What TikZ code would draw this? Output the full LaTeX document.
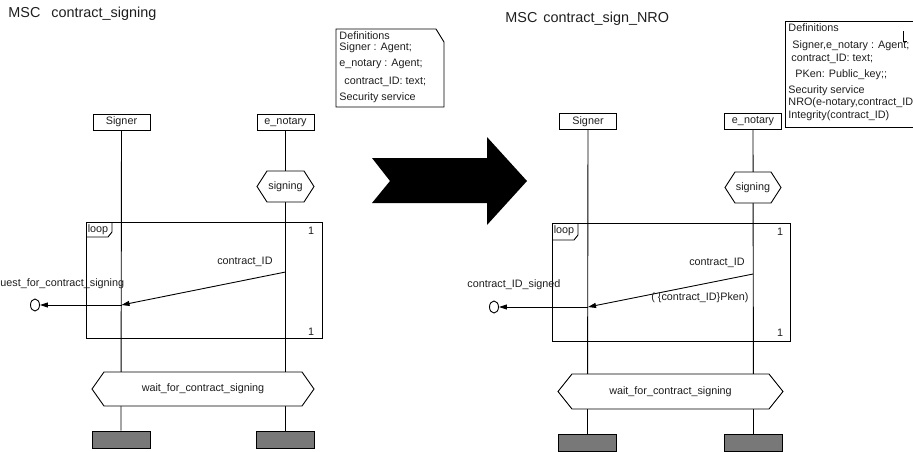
\documentclass[tikz,border=0pt]{standalone}
\usepackage{fontspec}
\setmainfont{Liberation Sans}
\usetikzlibrary{arrows.meta,shapes.geometric}
\definecolor{endgray}{RGB}{120,120,120}
\definecolor{ink}{RGB}{30,30,30}
\newcommand\hexnode[7]{%
  \draw[hexline] (#2,{(#4+#5)/2}) -- (#2+#6,#4) -- (#3-#6,#4) -- (#3,{(#4+#5)/2}) -- (#3-#6,#5) -- (#2+#6,#5) -- cycle;
  \node[lbl] (#1) at ({(#2+#3)/2},{(#4+#5)/2}) {#7};}
\begin{document}
\begin{tikzpicture}[x=1pt,y=-1pt,line width=0.9pt,
  lbl/.style={font=\fontsize{10.8}{13}\selectfont, inner sep=0pt, text=ink},
  ttl/.style={font=\fontsize{14.4}{17}\selectfont, inner sep=0pt, text=ink, anchor=west},
  inst/.style={lbl, draw, fill=white, minimum width=57pt, minimum height=16pt},
  endbox/.style={draw, fill=endgray, minimum width=58pt, minimum height=17pt, inner sep=0pt},
  hexline/.style={draw, fill=white},
  msg/.style={-{Triangle[length=8pt,width=5pt]}},
  outc/.style={draw, ellipse, minimum width=9pt, minimum height=12pt, inner sep=0pt},
  deftxt/.style={lbl, anchor=west}]
\useasboundingbox (0,0) rectangle (913,451);

% ================= LEFT MSC =================
\node[ttl] (tL) at (8,14) {MSC\hspace{11pt}contract\_signing};

% definitions
\draw (436,29) -- (336,29) -- (336,107) -- (444,107) -- (444,42) -- (436,29);
\node[deftxt] (dL0) at (339,35.5) {Definitions};
\node[deftxt] (dL1) at (339,47.5) {Signer : Agent;};
\node[deftxt] (dL2) at (339,64) {e\_notary : Agent;};
\node[deftxt] (dL3) at (344,82) {contract\_ID: text;};
\node[deftxt] (dL4) at (339,98) {Security service};

% instances
\node[inst] (sL) at (121.5,122) {Signer};
\node[inst] (nL) at (285.5,122) {e\_notary};
\node[endbox] (esL) at (121,439.5) {};
\node[endbox] (enL) at (285.5,439.5) {};
\draw (sL.south) -- (esL.north);
\draw (nL.south) -- (enL.north);

\hexnode{sigL}{257}{314}{171}{202}{10}{signing}
\hexnode{waitL}{92}{314}{372}{406}{12}{wait\_for\_contract\_signing}

% loop
\draw (86,222) rectangle (322,338);
\draw (86,237) -- (108,237) -- (112,232) -- (112,222);
\node[lbl] (loopL) at (98,229.5) {loop};
\node[lbl] (oneL1) at (311,231) {1};
\node[lbl] (oneL2) at (311,332) {1};

% message
\coordinate (mL1) at (285.5,272);
\coordinate (mL2) at (121.5,305);
\draw[msg] (mL1) -- (mL2);
\node[lbl, anchor=east] (cidL) at (273,262) {contract\_ID};
\node[outc] (oL) at (35,305) {};
\draw[msg] (mL2) -- (oL);
\node[lbl, anchor=west] (reqL) at (0,284) {uest\_for\_contract\_signing};

% ================= BIG ARROW =================
\fill (372,158) -- (487,158) -- (487,137) -- (527,181) -- (487,225) -- (487,203) -- (372,203) -- (390,181) -- cycle;

% ================= RIGHT MSC =================
\node[ttl] (tR) at (505,19) {MSC\hspace{6pt}contract\_sign\_NRO};

% definitions
\draw (925,21) -- (785,21) -- (785,127) -- (925,127);
\draw (903,31) -- (903,41) -- (907,41);
\node[deftxt] (dR0) at (788,28) {Definitions};
\node[deftxt] (dR1) at (792,46) {Signer,e\_notary : Agent;};
\node[deftxt] (dR2) at (791,59) {contract\_ID: text;};
\node[deftxt] (dR3) at (795,75) {PKen: Public\_key;;};
\node[deftxt] (dR4) at (788,91) {Security service};
\node[deftxt] (dR5) at (788,103) {NRO(e-notary,contract\_ID)};
\node[deftxt] (dR6) at (788,116) {Integrity(contract\_ID)};

% instances
\node[inst] (sR) at (588,121.5) {Signer};
\node[inst] (nR) at (753,121.5) {e\_notary};
\node[endbox] (esR) at (587.5,443) {};
\node[endbox] (enR) at (753.5,443) {};
\draw (sR.south) -- (esR.north);
\draw (nR.south) -- (enR.north);

\hexnode{sigR}{725}{781}{172}{203}{10}{signing}
\hexnode{waitR}{558}{783}{374}{409}{14}{wait\_for\_contract\_signing}

% loop
\draw (552,223) rectangle (790,341);
\draw (552,240) -- (574,240) -- (578,235) -- (578,223);
\node[lbl] (loopR) at (564,231) {loop};
\node[lbl] (oneR1) at (780,232) {1};
\node[lbl] (oneR2) at (780,333) {1};

% message
\coordinate (mR1) at (753,274);
\coordinate (mR2) at (588,307);
\draw[msg] (mR1) -- (mR2);
\node[lbl, anchor=east] (cidR) at (745,263) {contract\_ID};
\node[lbl, anchor=east] (sigtxt) at (749,298) {( \{contract\_ID\}Pken)};
\node[outc] (oR) at (494,307) {};
\draw[msg] (mR2) -- (oR);
\node[lbl, anchor=west] (cidsR) at (467,285) {contract\_ID\_signed};
\end{tikzpicture}
\end{document}
